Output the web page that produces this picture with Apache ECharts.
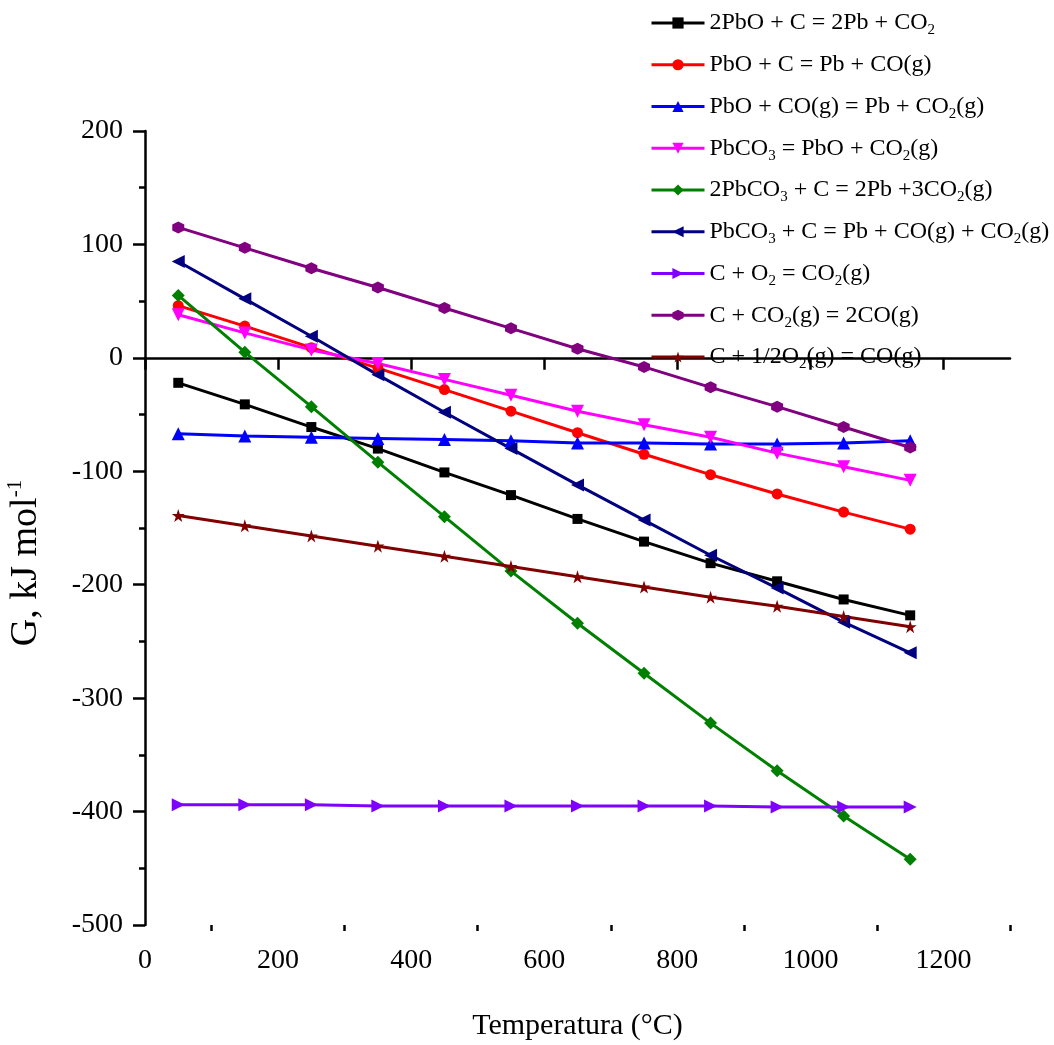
<!DOCTYPE html>
<html>
<head>
<meta charset="utf-8">
<script src="https://cdn.jsdelivr.net/npm/echarts@6/dist/echarts.min.js"></script>
<style>
html,body{margin:0;padding:0;background:#fff;}
#chart{width:1054px;height:1045px;}
</style>
</head>
<body>
<div id="chart"></div>
<script>
// Temperatures (°C)
const temps = [50, 150, 250, 350, 450, 550, 650, 750, 850, 950, 1050, 1150];

// ΔG values (kJ/mol) per reaction
const g_2PbO_C   = [-22, -41, -61, -80, -101, -121, -142, -162, -181, -197, -213, -227];
const g_PbO_C    = [46, 28, 9, -9, -28, -47, -66, -85, -103, -120, -136, -151];
const g_PbO_CO   = [-67, -69, -70, -71, -72, -73, -75, -75, -76, -76, -75, -73];
const g_PbCO3    = [38, 22, 7, -5, -19, -33, -47, -59, -70, -84, -96, -108];
const g_2PbCO3_C = [55, 5, -43, -92, -140, -188, -234, -278, -322, -364, -404, -442];
const g_PbCO3_C  = [85, 52, 19, -15, -48, -80, -112, -143, -174, -203, -233, -260];
const g_C_O2     = [-394, -394, -394, -395, -395, -395, -395, -395, -395, -396, -396, -396];
const g_C_CO2    = [115, 97, 79, 62, 44, 26, 8, -8, -26, -43, -61, -79];
const g_C_halfO2 = [-139, -148, -157, -166, -175, -184, -193, -202, -211, -219, -228, -237];

// Series names (with rich-text subscripts)
const names = [
  '2PbO + C = 2Pb + CO{s|2}',
  'PbO + C = Pb + CO(g)',
  'PbO + CO(g) = Pb + CO{s|2}(g)',
  'PbCO{s|3} = PbO + CO{s|2}(g)',
  '2PbCO{s|3} + C = 2Pb +3CO{s|2}(g)',
  'PbCO{s|3} + C = Pb + CO(g) + CO{s|2}(g)',
  'C + O{s|2} = CO{s|2}(g)',
  'C + CO{s|2}(g) = 2CO(g)',
  'C + 1/2O{s|2}(g) = CO(g)'
];
const seriesValues = [g_2PbO_C, g_PbO_C, g_PbO_CO, g_PbCO3, g_2PbCO3_C, g_PbCO3_C, g_C_O2, g_C_CO2, g_C_halfO2];
const colors = ['#000000', '#ff0000', '#0000ff', '#ff00ff', '#008000', '#000080', '#8000ff', '#800080', '#800000'];

// Axis ticks
const xMajorTicks = [0, 200, 400, 600, 800, 1000, 1200];
const xMinorTicks = [100, 300, 500, 700, 900, 1100, 1300];

const symbols = [
  'rect',
  'circle',
  'triangle',
  'path://M0,0L2,0L1,2Z',
  'diamond',
  'path://M0,1L2,0L2,2Z',
  'path://M0,0L2,1L0,2Z',
  'path://M1,0L1.866,0.5L1.866,1.5L1,2L0.134,1.5L0.134,0.5Z',
  'path://M1,0L1.2245,0.691L1.951,0.691L1.363,1.118L1.588,1.809L1,1.382L0.412,1.809L0.637,1.118L0.049,0.691L0.7755,0.691Z'
];
const symbolSizes = [10, 11, 13, 13, 13, 13, 13, 12, 13];

const FONT = 'Liberation Serif';

const series = names.map((n, i) => ({
  name: n,
  type: 'line',
  xAxisIndex: 0,
  yAxisIndex: 0,
  data: temps.map((t, j) => [t, seriesValues[i][j]]),
  symbol: symbols[i],
  symbolSize: symbolSizes[i],
  showAllSymbol: true,
  lineStyle: { color: colors[i], width: 3 },
  itemStyle: { color: colors[i] },
  emphasis: { disabled: true },
  animation: false
}));

const chart = echarts.init(document.getElementById('chart'), null, { renderer: 'canvas' });
chart.setOption({
  backgroundColor: '#ffffff',
  animation: false,
  grid: { left: 145, right: 44, top: 131, bottom: 120, containLabel: false, outerBoundsMode: 'none' },
  legend: {
    orient: 'vertical',
    left: 650,
    top: 8,
    padding: 0,
    itemWidth: 53,
    itemHeight: 14,
    itemGap: 11.75,
    selectedMode: false,
    data: names,
    lineStyle: { width: 3 },
    textStyle: {
      fontFamily: FONT,
      fontSize: 24,
      lineHeight: 30,
      color: '#000',
      rich: {
        s: { fontFamily: FONT, fontSize: 15, lineHeight: 4, verticalAlign: 'bottom', color: '#000' }
      }
    }
  },
  xAxis: [
    {
      type: 'value',
      min: 0,
      max: 1300,
      interval: 100,
      position: 'bottom',
      name: 'Temperatura (°C)',
      nameLocation: 'middle',
      nameGap: 86,
      nameTextStyle: { fontFamily: FONT, fontSize: 30, color: '#000' },
      axisLine: { show: true, lineStyle: { color: '#000', width: 2.5 } },
      axisTick: { show: true, length: 12, lineStyle: { color: '#000', width: 2.5 }, customValues: xMajorTicks },
      axisLabel: { fontFamily: FONT, fontSize: 28, color: '#000', margin: 22, customValues: xMajorTicks, formatter: v => String(v) },
      splitLine: { show: false }
    },
    {
      type: 'value',
      min: 0,
      max: 1300,
      interval: 100,
      position: 'bottom',
      axisLine: { show: false },
      axisTick: { show: true, length: 6, lineStyle: { color: '#000', width: 2.5 }, customValues: xMinorTicks },
      axisLabel: { show: false },
      splitLine: { show: false }
    }
  ],
  yAxis: {
    type: 'value',
    min: -500,
    max: 200,
    interval: 100,
    name: 'G, kJ mol{sup|-1}',
    nameLocation: 'middle',
    nameGap: 98,
    nameTextStyle: {
      fontFamily: FONT, fontSize: 38, lineHeight: 42, color: '#000', padding: [0, 70, 0, 0],
      rich: { sup: { fontFamily: FONT, fontSize: 21, lineHeight: 21, verticalAlign: 'top', color: '#000' } }
    },
    axisLine: { show: true, lineStyle: { color: '#000', width: 2.5 } },
    axisTick: { show: true, length: 12, lineStyle: { color: '#000', width: 2.5 } },
    minorTick: { show: true, splitNumber: 2, length: 6, lineStyle: { color: '#000', width: 2.5 } },
    axisLabel: { fontFamily: FONT, fontSize: 28, color: '#000', margin: 22, formatter: v => String(v) },
    splitLine: { show: false },
    minorSplitLine: { show: false }
  },
  series: series
});
</script>
</body>
</html>
